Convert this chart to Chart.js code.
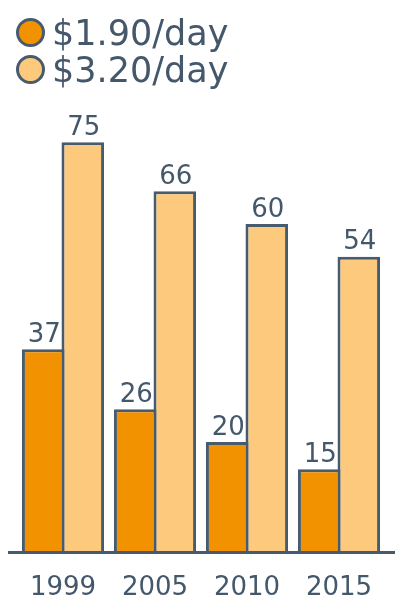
<!DOCTYPE html>
<html>
<head>
<meta charset="utf-8">
<script src="https://cdn.jsdelivr.net/npm/chart.js@4/dist/chart.umd.min.js"></script>
<style>
    html, body { margin: 0; padding: 0; background: #ffffff; }
    #wrap { position: relative; width: 400px; height: 600px; }
    #legend { position: absolute; left: 16px; top: 14px; font-family: 'DejaVu Sans', sans-serif; font-size: 35px; color: #44576b; }
    .item { display: flex; align-items: center; height: 37px; }
    .dot { width: 23px; height: 23px; border-radius: 50%; border: 3px solid #475b6e; margin-right: 7px; }
</style>
</head>
<body>
<div id="wrap">
    <canvas id="povertyChart" width="400" height="600"></canvas>
    <div id="legend"></div>
</div>
<script>
// Chart data
const years = ['1999', '2005', '2010', '2015'];
const seriesNames = ['$1.90/day', '$3.20/day'];
const below190 = [37, 26, 20, 15];
const below320 = [75, 66, 60, 54];

const orange = '#f39200';
const lightOrange = '#fdc97d';
const slate = '#475b6e';
const textColor = '#44576b';

// HTML legend
const legendEl = document.getElementById('legend');
[orange, lightOrange].forEach(function (color, i) {
    const row = document.createElement('div');
    row.className = 'item';
    row.innerHTML = '<span class="dot" style="background:' + color + '"></span>' + seriesNames[i];
    legendEl.appendChild(row);
});

// Value labels above each bar
const valueLabels = {
    id: 'valueLabels',
    afterDatasetsDraw(chart) {
        const ctx = chart.ctx;
        ctx.save();
        ctx.font = '26px "DejaVu Sans"';
        ctx.fillStyle = textColor;
        ctx.textAlign = 'center';
        ctx.textBaseline = 'bottom';
        chart.data.datasets.forEach(function (ds, i) {
            chart.getDatasetMeta(i).data.forEach(function (bar, j) {
                ctx.fillText(ds.data[j], bar.x + 1, bar.y - 1);
            });
        });
        ctx.restore();
    }
};

// Baseline wider than the plot area
const baseline = {
    id: 'baseline',
    afterDatasetsDraw(chart) {
        const ctx = chart.ctx;
        const y = chart.scales.y.getPixelForValue(0) + 1.5;
        ctx.save();
        ctx.strokeStyle = slate;
        ctx.lineWidth = 3;
        ctx.beginPath();
        ctx.moveTo(8, y);
        ctx.lineTo(395, y);
        ctx.stroke();
        ctx.restore();
    }
};

const config = {
    type: 'bar',
    data: {
        labels: years,
        datasets: [{
            label: seriesNames[0],
            data: below190,
            backgroundColor: orange,
            borderColor: slate,
            borderWidth: 3
        }, {
            label: seriesNames[1],
            data: below320,
            backgroundColor: lightOrange,
            borderColor: slate,
            borderWidth: 3
        }]
    },
    options: {
        responsive: false,
        animation: false,
        categoryPercentage: 0.86,
        barPercentage: 1.076,
        layout: {
            padding: { top: 115, left: 17, right: 15, bottom: -17 }
        },
        plugins: {
            legend: { display: false },
            tooltip: { enabled: false }
        },
        scales: {
            x: {
                grid: { display: false },
                border: { display: false },
                ticks: {
                    color: textColor,
                    padding: 16,
                    font: { family: 'DejaVu Sans', size: 26, lineHeight: 1 }
                }
            },
            y: {
                display: false,
                min: 0,
                max: 80
            }
        }
    },
    plugins: [valueLabels, baseline]
};

const povertyChart = new Chart(document.getElementById('povertyChart'), config);
</script>
</body>
</html>
